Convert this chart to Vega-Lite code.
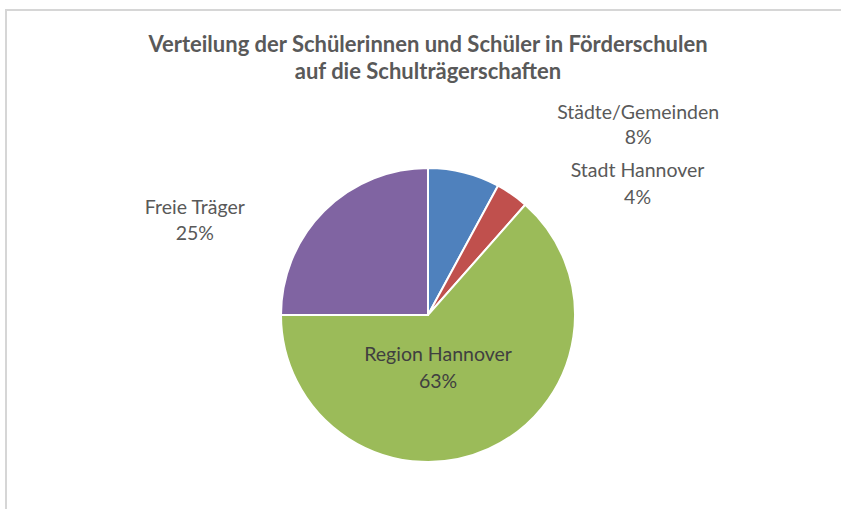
{
  "$schema": "https://vega.github.io/schema/vega-lite/v6.json",
  "autosize": "none",
  "width": 844,
  "height": 610,
  "padding": {"left": 6, "top": 10, "right": -9, "bottom": -111},
  "background": "white",
  "view": {"stroke": "#D6D6D6", "strokeWidth": 2, "fill": "white"},
  "config": {
    "font": "Lato"
  },
  "title": {
    "text": ["Verteilung der Schülerinnen und Schüler in Förderschulen", "auf die Schulträgerschaften"],
    "font": "Lato",
    "fontSize": 22,
    "fontWeight": "bold",
    "color": "#595959",
    "lineHeight": 27,
    "anchor": "middle",
    "baseline": "top",
    "offset": -74
  },
  "data": {
    "values": [
      {"idx": 1, "name": "Städte/Gemeinden", "value": 7.9, "pct": "8%"},
      {"idx": 2, "name": "Stadt Hannover", "value": 3.6, "pct": "4%"},
      {"idx": 3, "name": "Region Hannover", "value": 63.5, "pct": "63%"},
      {"idx": 4, "name": "Freie Träger", "value": 25, "pct": "25%"}
    ]
  },
  "transform": [
    {"stack": "value", "groupby": [], "sort": [{"field": "idx", "order": "ascending"}], "as": ["v0", "v1"]},
    {"calculate": "(datum.v0 + datum.v1) / 2", "as": "mid"},
    {"calculate": "[datum.name, datum.pct]", "as": "label"}
  ],
  "layer": [
    {
      "mark": {"type": "arc", "outerRadius": 147, "stroke": "white", "strokeWidth": 2},
      "encoding": {
        "theta": {"field": "v0", "type": "quantitative", "scale": {"domain": [0, 100]}},
        "theta2": {"field": "v1"},
        "color": {
          "field": "name",
          "type": "nominal",
          "scale": {
            "domain": ["Städte/Gemeinden", "Stadt Hannover", "Region Hannover", "Freie Träger"],
            "range": ["#4F81BD", "#C0504D", "#9BBB59", "#8064A2"]
          },
          "legend": null
        }
      }
    },
    {
      "transform": [{"filter": "datum.name === 'Städte/Gemeinden'"}],
      "mark": {"type": "text", "radius": 196, "dx": 162, "dy": -12.5, "align": "center", "baseline": "middle", "fontSize": 19.5, "lineHeight": 25, "color": "#595959"},
      "encoding": {
        "theta": {"field": "mid", "type": "quantitative", "scale": {"domain": [0, 100]}},
        "text": {"field": "label"}
      }
    },
    {
      "transform": [{"filter": "datum.name === 'Stadt Hannover'"}],
      "mark": {"type": "text", "radius": 160, "dx": 118, "dy": -13, "align": "center", "baseline": "middle", "fontSize": 19.5, "lineHeight": 27, "color": "#595959"},
      "encoding": {
        "theta": {"field": "mid", "type": "quantitative", "scale": {"domain": [0, 100]}},
        "text": {"field": "label"}
      }
    },
    {
      "transform": [{"filter": "datum.name === 'Region Hannover'"}],
      "mark": {"type": "text", "radius": 56, "dx": -13, "dy": -11, "align": "center", "baseline": "middle", "fontSize": 19.5, "lineHeight": 27, "color": "#404040"},
      "encoding": {
        "theta": {"field": "mid", "type": "quantitative", "scale": {"domain": [0, 100]}},
        "text": {"field": "label"}
      }
    },
    {
      "transform": [{"filter": "datum.name === 'Freie Träger'"}],
      "mark": {"type": "text", "radius": 136, "dx": -137, "dy": -11, "align": "center", "baseline": "middle", "fontSize": 19.5, "lineHeight": 26, "color": "#595959"},
      "encoding": {
        "theta": {"field": "mid", "type": "quantitative", "scale": {"domain": [0, 100]}},
        "text": {"field": "label"}
      }
    }
  ],
  "resolve": {"scale": {"theta": "independent"}}
}
